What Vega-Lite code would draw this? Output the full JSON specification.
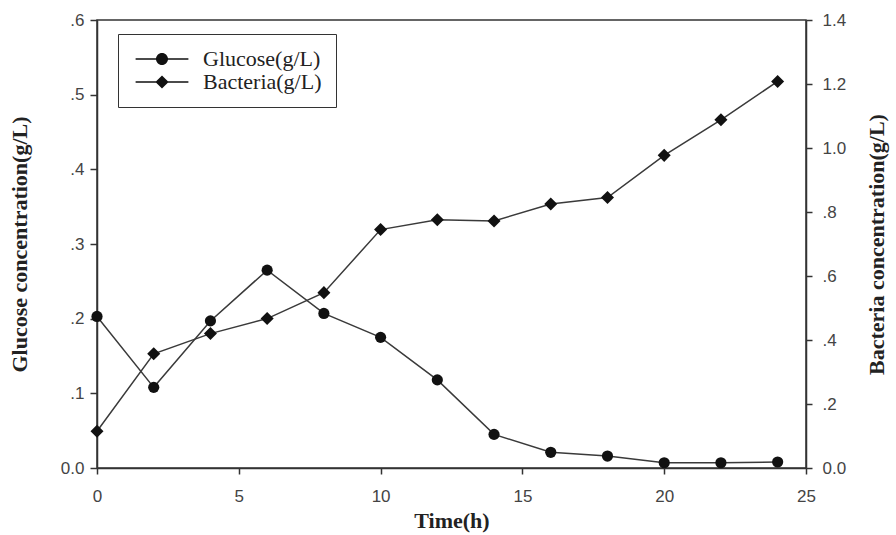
{
  "$schema": "https://vega.github.io/schema/vega-lite/v6.json",
  "width": 709,
  "height": 448,
  "autosize": {"type": "none"},
  "padding": {"left": 97, "top": 20, "right": 90, "bottom": 67},
  "background": "white",
  "datasets": {
    "main": [
      {"t": 0, "glucose": 0.203, "bacteria": 0.115},
      {"t": 2, "glucose": 0.108, "bacteria": 0.357},
      {"t": 4, "glucose": 0.197, "bacteria": 0.42},
      {"t": 6, "glucose": 0.265, "bacteria": 0.467},
      {"t": 8, "glucose": 0.207, "bacteria": 0.548},
      {"t": 10, "glucose": 0.175, "bacteria": 0.745},
      {"t": 12, "glucose": 0.118, "bacteria": 0.776},
      {"t": 14, "glucose": 0.045, "bacteria": 0.772},
      {"t": 16, "glucose": 0.021, "bacteria": 0.825},
      {"t": 18, "glucose": 0.016, "bacteria": 0.845},
      {"t": 20, "glucose": 0.007, "bacteria": 0.977},
      {"t": 22, "glucose": 0.007, "bacteria": 1.088},
      {"t": 24, "glucose": 0.008, "bacteria": 1.208}
    ],
    "legendrows": [
      {"series": "Glucose(g/L)", "t": 0, "v": 0},
      {"series": "Bacteria(g/L)", "t": 0, "v": 0}
    ]
  },
  "encoding": {
    "x": {
      "field": "t",
      "type": "quantitative",
      "scale": {"domain": [0, 25], "nice": false, "zero": false},
      "axis": {
        "title": "Time(h)",
        "values": [0, 5, 10, 15, 20, 25],
        "labelFlush": false,
        "tickSize": 6,
        "labelPadding": 14,
        "titlePadding": 6
      }
    }
  },
  "layer": [
    {
      "layer": [
        {
          "data": {"name": "main"},
          "mark": {"type": "line", "color": "#3a3a3a", "strokeWidth": 1.5}
        },
        {
          "data": {"name": "main"},
          "mark": {"type": "point", "filled": true, "color": "#111", "opacity": 1, "size": 125, "shape": "circle"}
        },
        {
          "data": {"name": "legendrows"},
          "mark": {"type": "point", "filled": true, "color": "#111", "opacity": 0},
          "encoding": {
            "y": {"field": "v", "type": "quantitative"},
            "shape": {
              "field": "series",
              "type": "nominal",
              "scale": {
                "domain": ["Glucose(g/L)", "Bacteria(g/L)"],
                "range": [
                  "M-4.4,-0.12H4.4V0.12H-4.4ZM1,0A1,1,0,1,1,-1,0A1,1,0,1,1,1,0Z",
                  "M-4.4,-0.12H4.4V0.12H-4.4ZM0,-1.1L1.1,0L0,1.1L-1.1,0Z"
                ]
              },
              "legend": {
                "title": null,
                "orient": "none",
                "legendX": 21,
                "legendY": 14,
                "padding": 14,
                "strokeColor": "#333",
                "symbolSize": 144,
                "symbolOffset": 19,
                "labelOffset": 30,
                "rowPadding": 1,
                "labelFont": "Liberation Serif",
                "labelFontSize": 22,
                "labelColor": "#222",
                "symbolFillColor": "#111",
                "encode": {
                  "symbols": {
                    "update": {
                      "opacity": {"value": 1},
                      "fill": {"value": "#111"}
                    }
                  }
                }
              }
            }
          }
        }
      ],
      "encoding": {
        "y": {
          "field": "glucose",
          "type": "quantitative",
          "scale": {"domain": [0, 0.6], "nice": false},
          "axis": {
            "orient": "left",
            "title": "Glucose concentration(g/L)",
            "values": [0, 0.1, 0.2, 0.3, 0.4, 0.5, 0.6],
            "labelExpr": "datum.value == 0 ? '0.0' : (datum.value < 1 ? substring(format(datum.value, '.1f'), 1) : format(datum.value, '.1f'))",
            "tickSize": 7,
            "labelPadding": 6,
            "titlePadding": 29
          }
        }
      }
    },
    {
      "data": {"name": "main"},
      "layer": [
        {
          "mark": {"type": "line", "color": "#3a3a3a", "strokeWidth": 1.5}
        },
        {
          "mark": {"type": "point", "filled": true, "color": "#111", "opacity": 1, "size": 170, "shape": "diamond"}
        }
      ],
      "encoding": {
        "y": {
          "field": "bacteria",
          "type": "quantitative",
          "scale": {"domain": [0, 1.4], "nice": false},
          "axis": {
            "orient": "right",
            "title": "Bacteria concentration(g/L)",
            "titleAngle": -90,
            "titleBaseline": "top",
            "values": [0, 0.2, 0.4, 0.6, 0.8, 1.0, 1.2, 1.4],
            "labelExpr": "datum.value == 0 ? '0.0' : (datum.value < 1 ? substring(format(datum.value, '.1f'), 1) : format(datum.value, '.1f'))",
            "tickSize": 6,
            "labelPadding": 10,
            "titlePadding": 21
          }
        }
      }
    }
  ],
  "resolve": {"scale": {"y": "independent"}},
  "config": {
    "view": {"stroke": "#333", "strokeWidth": 1.5},
    "axis": {
      "grid": false,
      "domainColor": "#333",
      "domainWidth": 1.5,
      "tickColor": "#333",
      "tickWidth": 1.5,
      "labelFont": "Liberation Sans",
      "labelFontSize": 17,
      "labelColor": "#444",
      "titleFont": "Liberation Serif",
      "titleFontSize": 22,
      "titleFontWeight": "bold",
      "titleColor": "#222"
    }
  }
}
